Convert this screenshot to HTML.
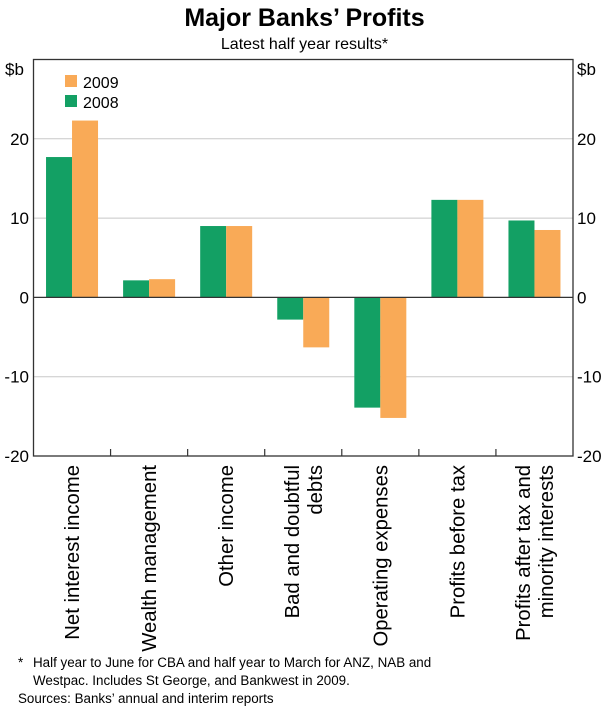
<!DOCTYPE html>
<html><head><meta charset="utf-8"><style>
body{margin:0;background:#fff}
svg{display:block;font-family:"Liberation Sans",Arial,sans-serif}
</style></head><body>
<svg width="609" height="708" viewBox="0 0 609 708" id="chart">
<text x="304.5" y="26" text-anchor="middle" font-size="25" font-weight="bold" fill="#000">Major Banks’ Profits</text>
<text x="304.5" y="49" text-anchor="middle" font-size="16" fill="#000">Latest half year results*</text>
<g id="grid"></g>
<g id="bars"></g>
<rect x="33.5" y="59.5" width="539.5" height="396.5" fill="none" stroke="#333" stroke-width="1.3"/>
<g id="axes"></g>
<text x="5" y="75" font-size="17">$b</text>
<text x="577" y="75" font-size="17">$b</text>
<g>
<rect x="65" y="75" width="12" height="12" fill="#f9aa57"/>
<text x="83" y="88" font-size="16">2009</text>
<rect x="65" y="95" width="12" height="12" fill="#13a064"/>
<text x="83" y="108" font-size="16">2008</text>
</g>
<g id="xlabels"></g>
<g font-size="13.4">
<text x="18" y="667">*</text>
<text x="33" y="667">Half year to June for CBA and half year to March for ANZ, NAB and</text>
<text x="33" y="685">Westpac. Includes St George, and Bankwest in 2009.</text>
<text x="18" y="703">Sources: Banks’ annual and interim reports</text>
</g>
</svg>
<script>
const categories=[["Net interest income"],["Wealth management"],["Other income"],["Bad and doubtful","debts"],["Operating expenses"],["Profits before tax"],["Profits after tax and","minority interests"]];
const values2008=[17.7,2.15,9.0,-2.8,-13.9,12.3,9.7];
const values2009=[22.3,2.3,9.0,-6.3,-15.2,12.3,8.5];
const yTicks=[-20,-10,0,10,20];
const yTickLabels=["-20","-10","0","10","20"];

const NS="http://www.w3.org/2000/svg";
const L=33.5,R=573,T=59.5,B=456,yMin=-20,yMax=30;
function y(v){return B-(v-yMin)/(yMax-yMin)*(B-T);}
const bw=(R-L)/categories.length;
function x(i){return L+bw*i;}
function mk(tag,attrs,parent){const e=document.createElementNS(NS,tag);for(const k in attrs)e.setAttribute(k,attrs[k]);parent.appendChild(e);return e;}
const grid=document.getElementById('grid'),bars=document.getElementById('bars'),axes=document.getElementById('axes'),xl=document.getElementById('xlabels');
yTicks.forEach((t,i)=>{
  if(t!==0&&t!==yMin){const g=mk('line',{x1:L,x2:R,y1:y(t),y2:y(t),stroke:'#c8c8c8','stroke-width':1},grid);
  
  }
  const a=mk('text',{x:29,y:y(t)+6,'text-anchor':'end','font-size':17},axes);a.textContent=yTickLabels[i];
  
  
  const b=mk('text',{x:577,y:y(t)+6,'font-size':17},axes);b.textContent=yTickLabels[i];
  
  
});
const w=26;
categories.forEach((c,i)=>{
  const cx=x(i)+bw/2;
  const v1=values2008[i],v2=values2009[i];
  const r1=mk('rect',{x:cx-w,y:Math.min(y(v1),y(0)),width:w,height:Math.abs(y(v1)-y(0)),fill:'#13a064'},bars);
  
  
  const r2=mk('rect',{x:cx,y:Math.min(y(v2),y(0)),width:w,height:Math.abs(y(v2)-y(0)),fill:'#f9aa57'},bars);
  
  
  if(i>0){const tk=mk('line',{x1:x(i),x2:x(i),y1:B,y2:B-7,stroke:'#333','stroke-width':1.2},axes);
  
  }
  const n=c.length;
  c.forEach((line,j)=>{
    const lx=cx+7+(j-(n-1)/2)*23;
    const t=mk('text',{x:0,y:0,'text-anchor':'end','font-size':20.3,transform:'translate('+lx+',465) rotate(-90)'},xl);
    t.textContent=line;
    
    
  });
});
const z=mk('line',{x1:L,x2:R,y1:y(0),y2:y(0),stroke:'#333','stroke-width':1.3},axes);


</script>
</body></html>
